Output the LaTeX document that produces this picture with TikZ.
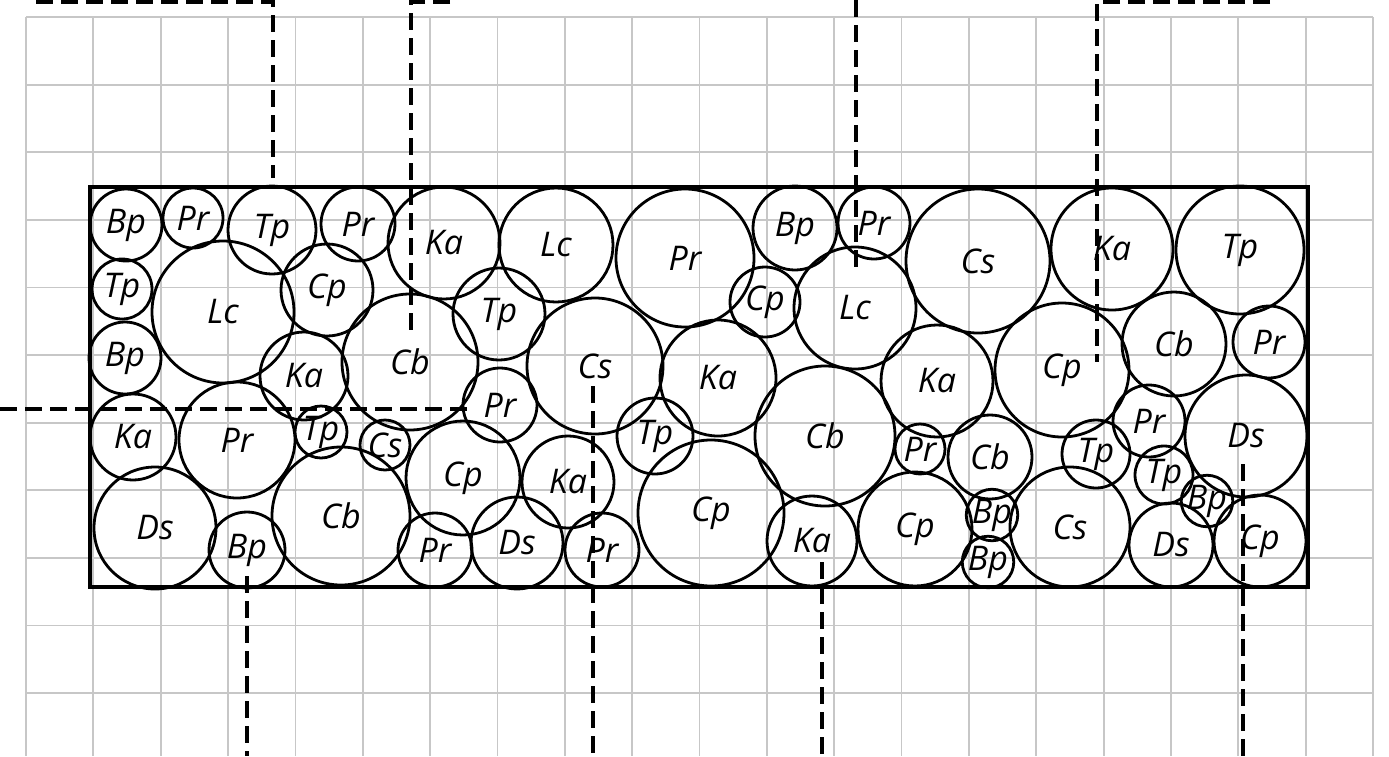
\documentclass[tikz,border=0pt]{standalone}
\usepackage{fontspec}
\setmainfont{Open Sans}
\usepackage{tikz}

\tikzset{
  hat/.style={circle, draw, line width=2.8pt, inner sep=0pt, font=\itshape\fontsize{34}{34}\selectfont},
  luoi/.style={draw=black!22, line width=1.8pt},
  catdoc/.style={line width=4.6pt, dash pattern=on 17pt off 8pt},
}

\begin{document}
\begin{tikzpicture}[x=1pt, y=-1pt]
    \useasboundingbox (0,0) rectangle (1389,756);
    % Lưới nền
    \foreach \i in {0,...,20} \draw[luoi] ({26+67.35*\i},17) -- ({26+67.35*\i},756);
    \foreach \j in {0,...,10} \draw[luoi] (26,{17+67.6*\j}) -- (1373,{17+67.6*\j});

    % Khung mẫu
    \draw[line width=3.2pt] (90,187) rectangle (1308,587);

    % Hàng trên
    \node[hat, minimum size=72pt] (bp1) at (126,225) {Bp};
    \node[hat, minimum size=60pt] (pr1) at (193,218) {Pr};
    \node[hat, minimum size=88pt] (tp1) at (272,230) {Tp};
    \node[hat, minimum size=74pt] (pr2) at (358,224) {Pr};
    \node[hat, minimum size=112pt] (ka1) at (444,243) {Ka};
    \node[hat, minimum size=114pt] (lc1) at (556,245) {Lc};
    \node[hat, minimum size=138pt] (pr3) at (685,258) {Pr};
    \node[hat, minimum size=84pt] (bp2) at (795,228) {Bp};
    \node[hat, minimum size=72pt] (pr4) at (874,223) {Pr};
    \node[hat, minimum size=144pt] (cs1) at (978,261) {Cs};
    \node[hat, minimum size=122pt] (ka2) at (1112,249) {Ka};
    \node[hat, minimum size=128pt] (tp2) at (1240,250) {Tp};

    % Hàng giữa
    \node[hat, minimum size=60pt] (tp3) at (122,289) {Tp};
    \node[hat, minimum size=142pt] (lc2) at (223,312) {Lc};
    \node[hat, minimum size=92pt] (cp1) at (327,290) {Cp};
    \node[hat, minimum size=72pt] (bp3) at (125,358) {Bp};
    \node[hat, minimum size=88pt] (ka3) at (304,376) {Ka};
    \node[hat, minimum size=136pt] (cb1) at (410,362) {Cb};
    \node[hat, minimum size=92pt] (tp4) at (499,314) {Tp};
    \node[hat, minimum size=136pt] (cs2) at (595,366) {Cs};
    \node[hat, minimum size=116pt] (ka4) at (718,378) {Ka};
    \node[hat, minimum size=70pt] (cp2) at (765,302) {Cp};
    \node[hat, minimum size=122pt] (lc3) at (855,308) {Lc};
    \node[hat, minimum size=112pt] (ka5) at (937,381) {Ka};
    \node[hat, minimum size=134pt] (cp3) at (1062,370) {Cp};
    \node[hat, minimum size=104pt] (cb2) at (1174,344) {Cb};
    \node[hat, minimum size=72pt] (pr5) at (1269,342) {Pr};

    % Hàng dưới
    \node[hat, minimum size=86pt] (ka6) at (133,437) {Ka};
    \node[hat, minimum size=116pt] (pr6) at (237,440) {Pr};
    \node[hat, minimum size=52pt] (tp5) at (321,432) {Tp};
    \node[hat, minimum size=50pt] (cs3) at (385,445) {Cs};
    \node[hat, minimum size=138pt] (cb3) at (341,516) {Cb};
    \node[hat, minimum size=122pt] (ds1) at (155,528) {Ds};
    \node[hat, minimum size=76pt] (bp4) at (247,550) {Bp};
    \node[hat, minimum size=74pt] (pr7) at (500,405) {Pr};
    \node[hat, minimum size=114pt] (cp4) at (463,478) {Cp};
    \node[hat, minimum size=92pt] (ka7) at (568,482) {Ka};
    \node[hat, minimum size=76pt] (tp6) at (655,436) {Tp};
    \node[hat, minimum size=74pt] (pr8) at (435,550) {Pr};
    \node[hat, minimum size=92pt] (ds2) at (517,543) {Ds};
    \node[hat, minimum size=74pt] (pr9) at (602,550) {Pr};
    \node[hat, minimum size=146pt] (cp5) at (711,513) {Cp};
    \node[hat, minimum size=140pt] (cb4) at (825,436) {Cb};
    \node[hat, minimum size=90pt] (ka8) at (812,541) {Ka};
    \node[hat, minimum size=50pt] (pr10) at (920,449) {Pr};
    \node[hat, minimum size=84pt] (cb5) at (990,457) {Cb};
    \node[hat, minimum size=114pt] (cp6) at (915,529) {Cp};
    \node[hat, minimum size=50pt] (bp5) at (992,515) {Bp};
    \node[hat, minimum size=50pt] (bp6) at (988,562) {Bp};
    \node[hat, minimum size=68pt] (tp7) at (1096,454) {Tp};
    \node[hat, minimum size=72pt] (pr11) at (1149,421) {Pr};
    \node[hat, minimum size=122pt] (ds3) at (1246,436) {Ds};
    \node[hat, minimum size=120pt] (cs4) at (1070,527) {Cs};
    \node[hat, minimum size=58pt] (tp8) at (1164,475) {Tp};
    \node[hat, minimum size=46pt] (bp7) at (1207,501) {Bp};
    \node[hat, minimum size=84pt] (ds4) at (1171,545) {Ds};
    \node[hat, minimum size=92pt] (cp7) at (1260,541) {Cp};

    % Các đường cắt
    \draw[catdoc] (36,2) -- (273,2) -- (273,178);
    \draw[catdoc] (450,2) -- (411,2) -- (411,335);
    \draw[catdoc] (856,0) -- (856,270);
    \draw[catdoc] (1270,2) -- (1097,2) -- (1097,362);
    \draw[catdoc] (0,409) -- (473,409);
    \draw[catdoc] (247,576) -- (247,756);
    \draw[catdoc] (593,386) -- (593,756);
    \draw[catdoc] (822,562) -- (822,756);
    \draw[catdoc] (1243,464) -- (1243,756);
\end{tikzpicture}
\end{document}
